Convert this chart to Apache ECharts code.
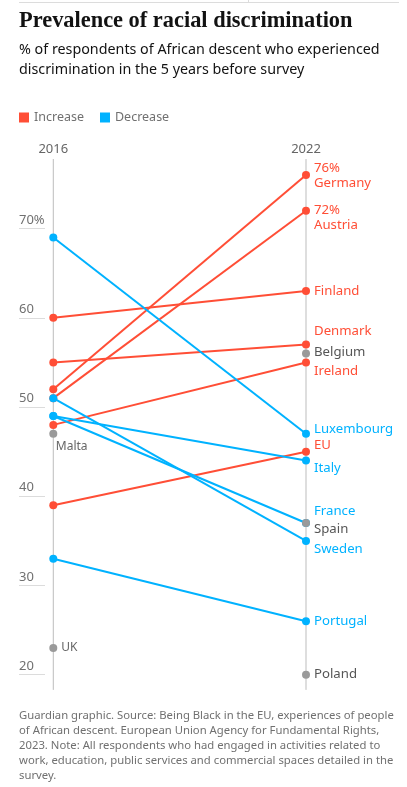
<!DOCTYPE html>
<html>
<head>
<meta charset="utf-8">
<script src="https://cdn.jsdelivr.net/npm/echarts@6/dist/echarts.min.js"></script>
<style>
html,body{margin:0;padding:0;background:#fff;}
#chart{width:407px;height:787px;}
</style>
</head>
<body>
<div id="chart"></div>
<script>
// ---- data ----
const years = ['2016', '2022'];
const yTicks = [20, 30, 40, 50, 60, 70];
const lineCountries = ['Germany', 'Austria', 'Finland', 'Denmark', 'Ireland', 'EU', 'Luxembourg', 'Italy', 'France', 'Sweden', 'Portugal'];
const values2016 = [52, 51, 60, 55, 48, 39, 69, 49, 49, 51, 33];
const values2022 = [76, 72, 63, 57, 55, 45, 47, 44, 37, 35, 26];
const onlyIn2022 = ['Belgium', 'Spain', 'Poland'];
const onlyIn2022Values = [56, 37, 20];
const onlyIn2016 = ['Malta', 'UK'];
const onlyIn2016Values = [47, 23];
const pctShown = ['Germany', 'Austria'];

// ---- styles ----
const RED = '#ff4e36', BLUE = '#00b2ff', GREY = '#9a9a9a';
const SANS = '"Noto Sans", sans-serif';
const LBL = 13.2;
const labelDy = {Germany: 0.5, Austria: 7, Finland: 0, Denmark: -13, Ireland: 9, EU: -6, Luxembourg: -5, Italy: 8, France: -12, Sweden: 8, Portugal: 0, Belgium: -1, Spain: 6, Poland: 0};

const series = [];
// vertical axis lines
[0, 1].forEach(function (x) {
  series.push({
    type: 'line', xAxisIndex: 0, yAxisIndex: 0, clip: false, silent: true, symbol: 'none', z: 1,
    lineStyle: {color: '#bdbdbd', width: 1},
    data: [[x, 18.3], [x, 77.8]]
  });
});
// legend dummies
series.push({name: 'Increase', type: 'line', data: [], itemStyle: {color: RED}, lineStyle: {color: RED}});
series.push({name: 'Decrease', type: 'line', data: [], itemStyle: {color: BLUE}, lineStyle: {color: BLUE}});

lineCountries.forEach(function (c, i) {
  const a = values2016[i], b = values2022[i];
  const col = b > a ? RED : BLUE;
  const fmt = pctShown.indexOf(c) >= 0 ? '{p|' + b + '%}\n{n|' + c + '}' : c;
  series.push({
    name: c, type: 'line', xAxisIndex: 0, yAxisIndex: 0, clip: false, silent: true,
    symbol: 'circle', symbolSize: 8, z: b > a ? 3 : 4,
    lineStyle: {color: col, width: 2},
    itemStyle: {color: col},
    data: [
      [0, a],
      {value: [1, b], label: {
        show: true, position: 'right', distance: 4, offset: [0, labelDy[c]],
        formatter: fmt, color: col, fontFamily: SANS, fontSize: LBL, lineHeight: 15,
        rich: {p: {color: col, fontFamily: SANS, fontSize: LBL, lineHeight: 15}, n: {color: col, fontFamily: SANS, fontSize: LBL, lineHeight: 15}}
      }}
    ]
  });
});

onlyIn2022.forEach(function (c, i) {
  series.push({
    name: c, type: 'line', xAxisIndex: 0, yAxisIndex: 0, clip: false, silent: true,
    symbol: 'circle', symbolSize: 8, z: 5,
    itemStyle: {color: GREY},
    data: [{value: [1, onlyIn2022Values[i]], label: {
      show: true, position: 'right', distance: 4, offset: [0, labelDy[c]],
      formatter: c, color: '#555', fontFamily: SANS, fontSize: LBL
    }}]
  });
});

const leftLabelPos = {Malta: {offset: [-5.5, 12.7], size: 12}, UK: {offset: [0, 0], size: 12}};
onlyIn2016.forEach(function (c, i) {
  series.push({
    name: c, type: 'line', xAxisIndex: 0, yAxisIndex: 0, clip: false, silent: true,
    symbol: 'circle', symbolSize: 8, z: 5,
    itemStyle: {color: GREY},
    data: [{value: [0, onlyIn2016Values[i]], label: {
      show: true, position: 'right', distance: 4, offset: leftLabelPos[c].offset,
      formatter: c, color: '#666', fontFamily: SANS, fontSize: leftLabelPos[c].size
    }}]
  });
});

const chart = echarts.init(document.getElementById('chart'), null, {renderer: 'canvas'});
chart.setOption({
  animation: false,
  backgroundColor: '#fff',
  title: {
    left: 14, top: 5,
    text: 'Prevalence of racial discrimination',
    textStyle: {fontFamily: '"Liberation Serif", serif', fontWeight: 'bold', fontSize: 22.4, color: '#121212'},
    subtext: '% of respondents of African descent who experienced\ndiscrimination in the 5 years before survey',
    subtextStyle: {fontFamily: SANS, fontSize: 14.3, color: '#121212', lineHeight: 20},
    itemGap: 8
  },
  legend: {
    left: 14, top: 106, icon: 'rect', itemWidth: 10, itemHeight: 10, itemGap: 16,
    data: ['Increase', 'Decrease'],
    textStyle: {fontFamily: SANS, fontSize: 12.5, color: '#707070'},
    selectedMode: false
  },
  grid: [
    {left: 53.3, right: 101, top: 139.4, bottom: 112.3},
    {left: 19, width: 26, top: 228.6, bottom: 112.3}
  ],
  xAxis: [
    {gridIndex: 0, type: 'value', min: 0, max: 1, interval: 1, position: 'top',
      axisLine: {show: false}, axisTick: {show: false}, splitLine: {show: false},
      axisLabel: {inside: true, margin: 3, verticalAlign: 'top', color: '#666', fontFamily: SANS, fontSize: 13,
        formatter: function (v) { return years[v] || ''; }}},
    {gridIndex: 1, type: 'value', show: false, min: 0, max: 1}
  ],
  yAxis: [
    {gridIndex: 0, type: 'value', min: 20, max: 80, interval: 10, show: false},
    {gridIndex: 1, type: 'value', min: 20, max: 70, interval: 10,
      axisLine: {show: false}, axisTick: {show: false},
      splitLine: {show: true, lineStyle: {color: '#dcdcdc', width: 1}},
      axisLabel: {inside: true, margin: 0, verticalAlign: 'bottom', padding: [0, 0, 2, 0],
        color: '#707070', fontFamily: SANS, fontSize: 13,
        formatter: function (v) { return yTicks.indexOf(v) < 0 ? '' : (v === 70 ? v + '%' : String(v)); }}}
  ],
  graphic: [
    {type: 'line', shape: {x1: 19, y1: 2.5, x2: 399, y2: 2.5}, style: {stroke: '#dcdcdc', lineWidth: 1}},
    {type: 'line', shape: {x1: 248.5, y1: 0, x2: 248.5, y2: 2.5}, style: {stroke: '#dcdcdc', lineWidth: 1}},
    {type: 'text', left: 19, top: 708, style: {
      text: 'Guardian graphic. Source: Being Black in the EU, experiences of people\nof African descent. European Union Agency for Fundamental Rights,\n2023. Note: All respondents who had engaged in activities related to\nwork, education, public services and commercial spaces detailed in the\nsurvey.',
      fontFamily: SANS, fontSize: 11.3, lineHeight: 15, fill: '#707070'}}
  ],
  series: series
});
</script>
</body>
</html>
